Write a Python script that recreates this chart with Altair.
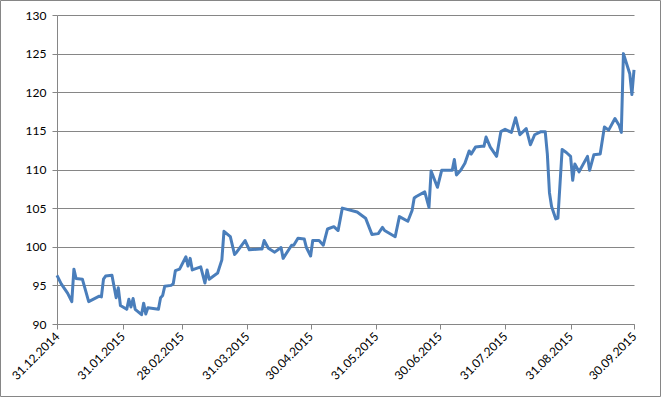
import altair as alt
import pandas as pd

dates = ["2014-12-31","2015-01-02","2015-01-05","2015-01-07","2015-01-08","2015-01-09","2015-01-12","2015-01-15","2015-01-20","2015-01-21",
         "2015-01-22","2015-01-23","2015-01-26","2015-01-28","2015-01-29","2015-01-30","2015-02-02","2015-02-03","2015-02-04","2015-02-05",
         "2015-02-06","2015-02-09","2015-02-10","2015-02-11","2015-02-12","2015-02-17","2015-02-18","2015-02-19","2015-02-20","2015-02-23",
         "2015-02-24","2015-02-25","2015-02-27","2015-03-02","2015-03-03","2015-03-04","2015-03-05","2015-03-09","2015-03-11","2015-03-12",
         "2015-03-13","2015-03-17","2015-03-19","2015-03-20","2015-03-23","2015-03-25","2015-03-26","2015-03-30","2015-04-01","2015-04-06",
         "2015-04-07","2015-04-08","2015-04-10","2015-04-13","2015-04-16","2015-04-17","2015-04-21","2015-04-22","2015-04-24","2015-04-27",
         "2015-04-28","2015-04-30","2015-05-01","2015-05-04","2015-05-06","2015-05-08","2015-05-11","2015-05-13","2015-05-15","2015-05-22",
         "2015-05-26","2015-05-29","2015-06-01","2015-06-03","2015-06-04","2015-06-09","2015-06-11","2015-06-15","2015-06-17","2015-06-18",
         "2015-06-19","2015-06-23","2015-06-25","2015-06-26","2015-06-29","2015-07-01","2015-07-06","2015-07-07","2015-07-08","2015-07-10",
         "2015-07-12","2015-07-14","2015-07-15","2015-07-17","2015-07-20","2015-07-21","2015-07-22","2015-07-24","2015-07-27","2015-07-29",
         "2015-07-31","2015-08-03","2015-08-05","2015-08-07","2015-08-10","2015-08-12","2015-08-14","2015-08-17","2015-08-19","2015-08-20",
         "2015-08-21","2015-08-22","2015-08-24","2015-08-25","2015-08-27","2015-08-29","2015-08-31","2015-09-01","2015-09-02","2015-09-04",
         "2015-09-08","2015-09-09","2015-09-11","2015-09-14","2015-09-16","2015-09-18","2015-09-21","2015-09-23","2015-09-24","2015-09-25",
         "2015-09-28","2015-09-29","2015-09-30"]

values = [96.3, 95.2, 94.0, 92.9, 97.1, 95.9, 95.8, 92.9, 93.6, 93.5,
          95.8, 96.2, 96.3, 93.4, 94.7, 92.4, 91.9, 93.2, 92.2, 93.3,
          91.9, 91.2, 92.7, 91.3, 92.1, 91.9, 93.4, 93.7, 94.9, 95.0,
          95.2, 96.9, 97.1, 98.7, 97.5, 98.5, 97.0, 97.4, 95.3, 97.0,
          95.8, 96.6, 98.3, 102.0, 101.3, 99.0, 99.3, 100.8, 99.6, 99.7,
          99.7, 100.8, 99.8, 99.3, 99.9, 98.5, 100.2, 100.2, 101.1, 101.0,
          99.9, 98.8, 100.8, 100.8, 100.2, 102.3, 102.6, 102.1, 105.0, 104.5,
          103.7, 101.6, 101.7, 102.5, 102.1, 101.3, 103.9, 103.3, 104.7, 106.3,
          106.5, 107.1, 105.1, 109.8, 107.7, 109.9, 109.9, 111.3, 109.3, 109.9,
          110.8, 112.4, 112.0, 112.9, 113.0, 113.0, 114.2, 112.9, 111.7, 114.9,
          115.2, 114.8, 116.7, 114.5, 115.3, 113.2, 114.5, 114.9, 114.9, 112.0,
          107.0, 105.2, 103.6, 103.7, 112.6, 112.2, 111.7, 108.6, 110.7, 109.7,
          111.7, 109.9, 111.9, 112.0, 115.5, 115.1, 116.6, 115.7, 114.8, 125.0,
          122.4, 119.7, 122.9]

tick_dates = ["2014-12-31", "2015-01-31", "2015-02-28", "2015-03-31", "2015-04-30",
              "2015-05-31", "2015-06-30", "2015-07-31", "2015-08-31", "2015-09-30"]
y_ticks = [90, 95, 100, 105, 110, 115, 120, 125, 130]

df = pd.DataFrame({"date": dates, "value": values})

def ms(d):
    return int(pd.Timestamp(d, tz="UTC").value // 10**6)

tick_ms = [ms(d) for d in tick_dates]

W, H = 577, 309
PL, PT, PR, PB = 57, 15, 27, 73
GRID = "#868686"
FONT = "Lato"

line = alt.Chart(df).mark_line(color="#4A7EBB", strokeWidth=3, strokeJoin="round").encode(
    x=alt.X("date:T",
            scale=alt.Scale(type="utc", domain=[tick_ms[0], tick_ms[-1]]),
            axis=alt.Axis(values=tick_ms, labelExpr="utcFormat(datum.value, '%d.%m.%Y')",
                          title=None, grid=False, labelAngle=-45, labelAlign="right",
                          labelBaseline="middle", labelPadding=5, tickSize=5,
                          tickColor=GRID, domainColor=GRID, labelFont=FONT, labelFontSize=12,
                          labelColor="#000000", labelOverlap=False, labelFlush=False)),
    y=alt.Y("value:Q",
            scale=alt.Scale(domain=[90, 130], nice=False, zero=False),
            axis=alt.Axis(values=y_ticks, title=None, grid=True, gridColor=GRID, gridWidth=1,
                          tickSize=5, tickColor=GRID, domainColor=GRID, labelPadding=6,
                          labelFont=FONT, labelFontSize=12, labelColor="#000000")),
)

frame = alt.Chart(pd.DataFrame({"a": [0]})).mark_rect(
    fill=None, stroke=GRID, strokeWidth=1, clip=False
).encode(
    x=alt.value(-PL + 0.5), x2=alt.value(W + PR - 0.5),
    y=alt.value(-PT + 0.5), y2=alt.value(H + PB - 0.5),
)

chart = alt.layer(frame, line).properties(
    width=W, height=H,
    autosize=alt.AutoSizeParams(type="none"),
    padding={"left": PL, "top": PT, "right": PR, "bottom": PB},
    background="white",
).configure_view(stroke=None)

chart.save("out.html", embed_options={"renderer": "svg", "actions": False})
